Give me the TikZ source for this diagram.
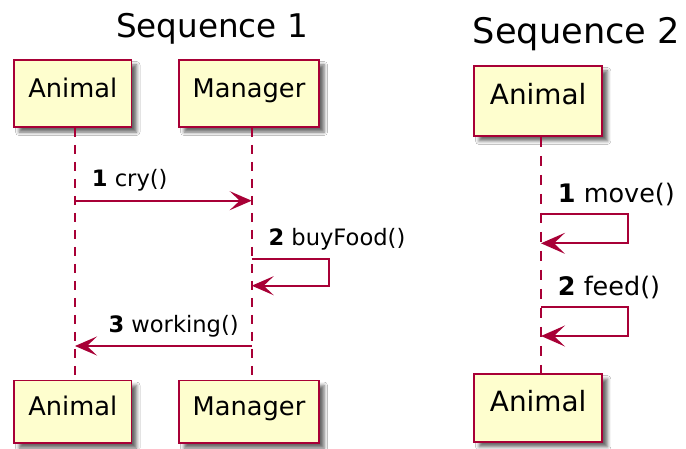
\documentclass[tikz,border=0pt]{standalone}
\usepackage{fontspec}
\setmainfont{DejaVu Sans}
\usetikzlibrary{arrows.meta,shadows.blur}

\definecolor{umlred}{HTML}{A80036}
\definecolor{umlfill}{HTML}{FEFECE}

\tikzset{
  participant/.style={draw=umlred, fill=umlfill, line width=1.8pt, inner sep=0pt,
    text height=0.73em, text depth=0pt,
    blur shadow={shadow xshift=5pt, shadow yshift=-5pt, shadow blur radius=3.5pt, shadow opacity=60}},
  lifeline/.style={draw=umlred, line width=1.8pt, dash pattern=on 9pt off 8pt},
  lifelinebig/.style={draw=umlred, line width=2pt, dash pattern=on 10pt off 9pt},
  msg/.style={draw=umlred, line width=1.8pt, -{Stealth[length=22pt, width=19pt, inset=10pt]}},
  msgbig/.style={draw=umlred, line width=1.9pt, -{Stealth[length=24pt, width=21pt, inset=11pt]}},
  msglabel/.style={anchor=base west, inner sep=0pt},
  diagtitle/.style={anchor=base, inner sep=0pt},
}

\begin{document}
\begin{tikzpicture}[x=1pt, y=-1pt]
  \useasboundingbox[fill=white] (0,0) rectangle (686,449);

  % ---- Sequence 1 ----
  \node[diagtitle, font=\fontsize{32.6pt}{38pt}\selectfont] (t1) at (212,37.3) {Sequence 1};

  \node[participant, minimum width=117.5pt, minimum height=67pt,
        font=\fontsize{25.7pt}{30pt}\selectfont] (a1) at (72.8,93.5) {Animal};
  \node[participant, minimum width=140pt, minimum height=67pt,
        font=\fontsize{25.7pt}{30pt}\selectfont] (m1) at (249,93.5) {Manager};
  \node[participant, minimum width=117.5pt, minimum height=62.5pt,
        font=\fontsize{25.7pt}{30pt}\selectfont] (a1b) at (72.8,411.75) {Animal};
  \node[participant, minimum width=140pt, minimum height=62.5pt,
        font=\fontsize{25.7pt}{30pt}\selectfont] (m1b) at (249,411.75) {Manager};

  \coordinate (LA) at ([xshift=2.2pt]a1.south);
  \coordinate (LAb) at ([xshift=2.2pt]a1b.north);
  \coordinate (LM) at ([xshift=2.7pt]m1.south);
  \coordinate (LMb) at ([xshift=2.7pt]m1b.north);
  \draw[lifeline] (LA) -- (LAb);
  \draw[lifeline] (LM) -- (LMb);

  % messages
  \draw[msg] (LA |- 0,200.7) -- (LM |- 0,200.7);
  \node[msglabel, font=\fontsize{22.6pt}{27pt}\selectfont] (c1) at (91.7,186.7) {\textbf{1} cry()};

  \draw[msg] (LM |- 0,259.3) -| (329.3,285.7) -- (LM |- 0,285.7);
  \node[msglabel, font=\fontsize{22.6pt}{27pt}\selectfont] (c2) at (268.3,246) {\textbf{2} buyFood()};

  \draw[msg] (LM |- 0,346) -- (LA |- 0,346);
  \node[msglabel, font=\fontsize{22.6pt}{27pt}\selectfont] (c3) at (108.3,333) {\textbf{3} working()};

  % ---- Sequence 2 ----
  \node[diagtitle, font=\fontsize{35.2pt}{41pt}\selectfont] (t2) at (576.4,43.3) {Sequence 2};

  \node[participant, minimum width=128.3pt, minimum height=70pt,
        font=\fontsize{27.9pt}{33pt}\selectfont] (a2) at (538.2,101) {Animal};
  \node[participant, minimum width=128.3pt, minimum height=67.7pt,
        font=\fontsize{27.9pt}{33pt}\selectfont] (a2b) at (538.2,407.9) {Animal};

  \coordinate (LB) at ([xshift=2.8pt]a2.south);
  \coordinate (LBb) at ([xshift=2.8pt]a2b.north);
  \draw[lifelinebig] (LB) -- (LBb);

  \draw[msgbig] (LB |- 0,214.3) -| (627.7,243.3) -- (LB |- 0,243.3);
  \node[msglabel, font=\fontsize{25.5pt}{30pt}\selectfont] (d1) at (557.7,202.3) {\textbf{1} move()};

  \draw[msgbig] (LB |- 0,307.3) -| (627.7,336) -- (LB |- 0,336);
  \node[msglabel, font=\fontsize{25.5pt}{30pt}\selectfont] (d2) at (557.7,296) {\textbf{2} feed()};
\end{tikzpicture}
\end{document}
